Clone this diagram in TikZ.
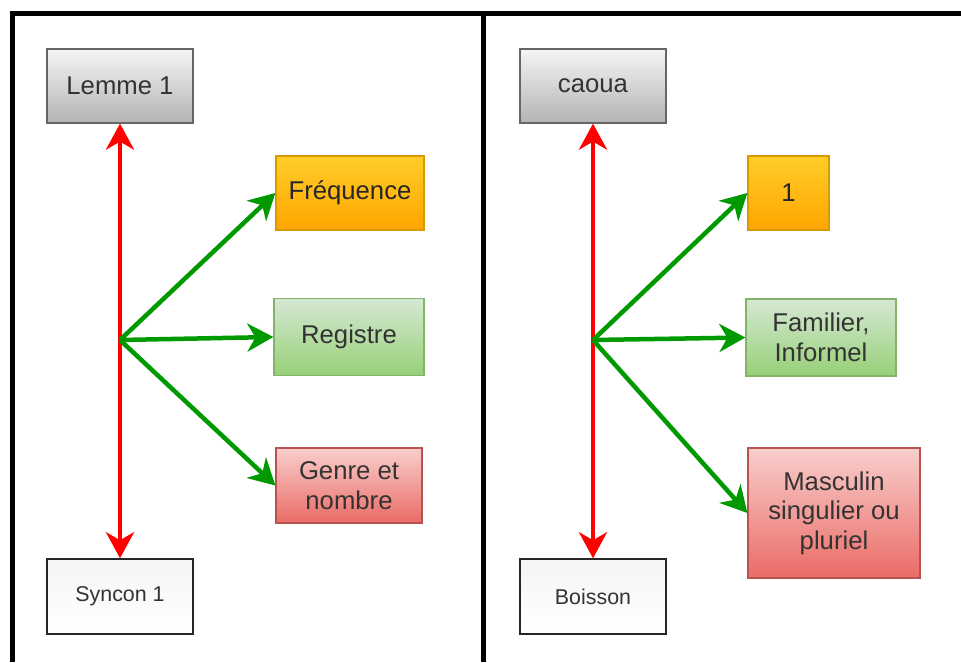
\documentclass[tikz,border=0pt]{standalone}
\usepackage{fontspec}
\setmainfont{Liberation Sans}
\usetikzlibrary{arrows.meta}
\definecolor{txt}{HTML}{333333}
\definecolor{grayT}{HTML}{F5F5F5}\definecolor{grayB}{HTML}{B3B3B3}\definecolor{grayS}{HTML}{666666}
\definecolor{orT}{HTML}{FFCD28}\definecolor{orB}{HTML}{FFA500}\definecolor{orS}{HTML}{D79B00}
\definecolor{grT}{HTML}{D5E8D4}\definecolor{grB}{HTML}{97D077}\definecolor{grS}{HTML}{82B366}
\definecolor{rdT}{HTML}{F8CECC}\definecolor{rdB}{HTML}{EA6B66}\definecolor{rdS}{HTML}{B85450}
\definecolor{arrG}{HTML}{009900}
\definecolor{arrR}{HTML}{FF0000}
\tikzset{
  box/.style={rectangle, inner sep=2pt, align=center, text=txt, line width=1.2pt,
    font=\fontsize{25.7}{29.6}\selectfont},
  graybox/.style={box, draw=grayS, top color=grayT, bottom color=grayB},
  whitebox/.style={box, draw=black!85, top color=grayT, bottom color=white, line width=1.5pt,
    font=\fontsize{21.4}{25}\selectfont},
  orbox/.style={box, draw=orS, top color=orT, bottom color=orB, text=black!85},
  grbox/.style={box, draw=grS, top color=grT, bottom color=grB},
  rdbox/.style={box, draw=rdS, top color=rdT, bottom color=rdB},
  redarr/.style={draw=arrR, line width=4.5pt, {Stealth[length=26pt,width=28pt,inset=8pt]}-{Stealth[length=26pt,width=28pt,inset=8pt]}},
  grnarr/.style={draw=arrG, line width=4.5pt, -{Stealth[length=26pt,width=28pt,inset=8pt]}},
  frame/.style={draw=black, line width=5pt}
}
\begin{document}
\begin{tikzpicture}[x=1pt,y=-1pt]
\useasboundingbox (0,0) rectangle (961,662);
% frame
\coordinate (fTR) at (961,13);
\coordinate (fTL) at (12,13);
\coordinate (fBL) at (12,662);
\coordinate (dT) at (483,13);
\coordinate (dB) at (483,662);
\draw[frame] (fTR) -- (fTL) -- (fBL);
\draw[frame] (dT) -- (dB);
% left panel
\node[graybox, minimum width=146pt, minimum height=74pt] (lemme) at (120,86) {Lemme 1};
\node[orbox, minimum width=148pt, minimum height=74pt] (freq) at (350,193) {Fréquence};
\node[grbox, minimum width=150pt, minimum height=77pt] (reg) at (349,337) {Registre};
\node[rdbox, minimum width=146pt, minimum height=75pt] (genre) at (349,485.5) {Genre et\\nombre};
\node[whitebox, minimum width=146pt, minimum height=75pt] (syncon) at (120,596.5) {Syncon 1};
\coordinate (hubL) at (120,340);
\draw[redarr] (lemme.south) -- (syncon.north);
\draw[grnarr] (hubL) -- (freq.west);
\draw[grnarr] (hubL) -- (reg.west);
\draw[grnarr] (hubL) -- (genre.west);
% right panel
\node[graybox, minimum width=146pt, minimum height=74pt] (caoua) at (593,86) {caoua};
\node[orbox, minimum width=81pt, minimum height=74pt] (one) at (788.5,193) {1};
\node[grbox, minimum width=150pt, minimum height=77pt] (fam) at (821,337.5) {Familier,\\Informel};
\node[rdbox, minimum width=172pt, minimum height=130pt] (masc) at (834,513) {Masculin\\singulier ou\\pluriel};
\node[whitebox, minimum width=146pt, minimum height=75pt] (boisson) at (593,596.5) {Boisson};
\coordinate (hubR) at (593,340);
\draw[redarr] (caoua.south) -- (boisson.north);
\draw[grnarr] (hubR) -- (one.west);
\draw[grnarr] (hubR) -- (fam.west);
\draw[grnarr] (hubR) -- (masc.west);
\end{tikzpicture}
\end{document}
